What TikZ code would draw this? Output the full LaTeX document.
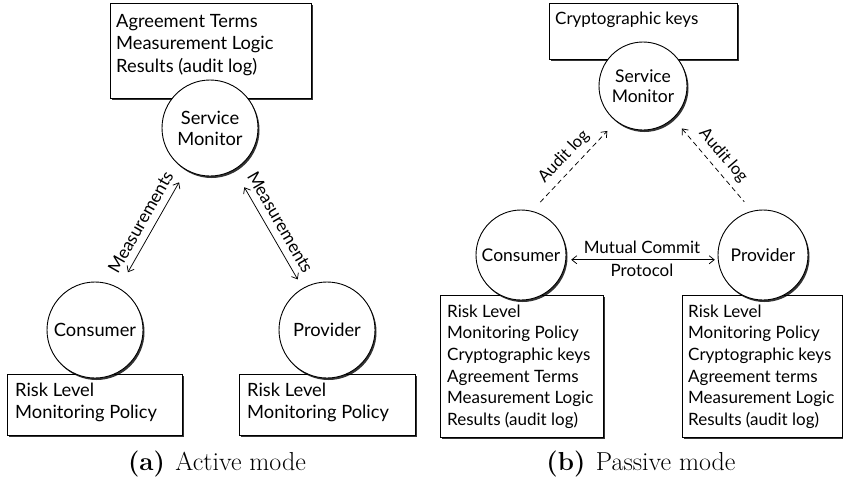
\documentclass[tikz,border=0pt]{standalone}
\usepackage{fontspec}
\newfontfamily\diagfont{Lato}
\usetikzlibrary{arrows.meta,shadows,calc}
% a list whose baseline is that of its first line
\newcommand{\itemlist}[1]{\begin{tabular}[t]{@{}l@{}}#1\end{tabular}}

\begin{document}
\begin{tikzpicture}[x=1pt,y=-1pt,
  every node/.style={font=\diagfont},
  >={Straight Barb[length=5pt,width=8pt]},
  shade/.style={drop shadow={shadow xshift=1.5pt,shadow yshift=-2pt,opacity=0.8,fill=black}},
  infobox/.style={draw,line width=0.9pt,fill=white,rectangle,anchor=north west,inner sep=0pt,shade},
  actor/.style={draw,line width=0.9pt,fill=white,circle,inner sep=0pt,align=center,shade},
  listA/.style={font=\diagfont\fontsize{18.3}{22.5}\selectfont,anchor=base west,inner sep=0pt},
  listP/.style={font=\diagfont\fontsize{17}{21.7}\selectfont,anchor=base west,inner sep=0pt},
  actorA/.style={actor,minimum size=96pt,font=\diagfont\fontsize{18.3}{21}\selectfont},
  actorP/.style={actor,font=\diagfont\fontsize{17.5}{20}\selectfont},
  flow/.style={line width=0.75pt},
  logflow/.style={flow,dash pattern=on 5pt off 3.5pt},
  caption/.style={font=\normalfont\fontsize{26}{30}\selectfont,anchor=base},
  edgelabelA/.style={font=\diagfont\fontsize{17.5}{20}\selectfont,sloped,above=7pt,inner sep=0pt},
  edgelabelP/.style={font=\diagfont\fontsize{16.5}{19}\selectfont,sloped,above=6pt,inner sep=0pt},
  midlabel/.style={font=\diagfont\fontsize{17}{20}\selectfont,inner sep=0pt}
]
\useasboundingbox (0,0) rectangle (843,480);

% ---------- active mode ----------
\node[infobox,minimum width=201pt,minimum height=95pt] (tboxA) at (110,3) {};
\node[listA] (ttxtA) at (116,27) {\itemlist{Agreement Terms\\Measurement Logic\\Results (audit log)}};

\node[infobox,minimum width=175pt,minimum height=61pt] (cboxA) at (7,374) {};
\node[listA] (ctxtA) at (15,396) {\itemlist{Risk Level\\Monitoring Policy}};
\node[infobox,minimum width=176pt,minimum height=61pt] (pboxA) at (239,374) {};
\node[listA] (ptxtA) at (247,396) {\itemlist{Risk Level\\Monitoring Policy}};

\node[actorA] (smA) at (210,128) {Service\\Monitor};
\node[actorA] (conA) at (95,330) {Consumer};
\node[actorA] (provA) at (327,330) {Provider};

\draw[flow,<->,shorten <=18pt,shorten >=14pt] (conA) -- node[edgelabelA] (mlA) {Measurements} (smA);
\draw[flow,<->,shorten <=20pt,shorten >=10pt] (smA) -- node[edgelabelA] (mrA) {Measurements} (provA);

\node[caption] (capA) at (217,470) {\textbf{(a)}\hspace{0.4em}Active mode};

% ---------- passive mode ----------
\node[infobox,minimum width=188pt,minimum height=56pt] (kboxP) at (549,3) {};
\node[listP] (ktxtP) at (555,24) {Cryptographic keys};

\node[infobox,minimum width=163pt,minimum height=142pt] (cboxP) at (440,295) {};
\node[listP] (ctxtP) at (447,317) {\itemlist{Risk Level\\Monitoring Policy\\Cryptographic keys\\Agreement Terms\\Measurement Logic\\Results (audit log)}};
\node[infobox,minimum width=160pt,minimum height=142pt] (pboxP) at (682,295) {};
\node[listP] (ptxtP) at (688,317) {\itemlist{Risk Level\\Monitoring Policy\\Cryptographic keys\\Agreement terms\\Measurement Logic\\Results (audit log)}};

\node[actorP,minimum size=88pt] (smP) at (643,86) {Service\\Monitor};
\node[actorP,minimum size=90pt] (conP) at (521,255) {Consumer};
\node[actorP,minimum size=90pt] (provP) at (763,255) {Provider};

\draw[logflow,->,shorten <=12pt,shorten >=13pt] (conP.76) -- node[edgelabelP] (alL) {Audit log} (smP.233);
\draw[logflow,<-,shorten <=13pt,shorten >=12pt] (smP.313) -- node[edgelabelP] (alR) {Audit log} (provP.104);

\draw[flow,<->,shorten <=5pt,shorten >=3pt] (conP.-6) -- node[midlabel,above=6pt] (mc) {Mutual Commit}
  node[midlabel,below=4pt] (pr) {Protocol} (provP.186);

\node[caption] (capP) at (641,470) {\textbf{(b)}\hspace{0.4em}Passive mode};
\end{tikzpicture}
\end{document}
